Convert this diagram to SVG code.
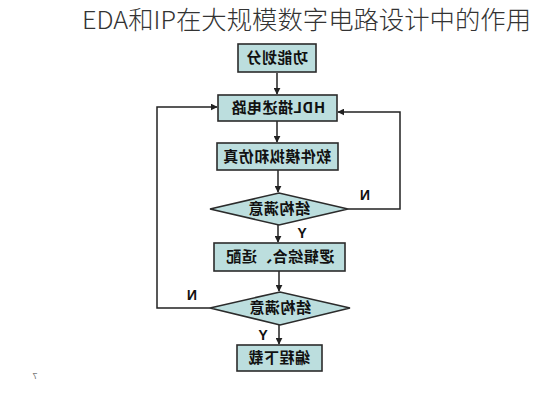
<svg xmlns="http://www.w3.org/2000/svg" width="533" height="400" viewBox="0 0 533 400">
<defs>
<style>
.box{fill:#bcdede;stroke:#2b2b2b;stroke-width:1.6}
.lbl{font-family:"Noto Sans CJK SC","Liberation Sans",sans-serif;font-size:15px;font-weight:bold;fill:#111;text-anchor:middle;letter-spacing:0.5px}
.yn{font-family:"Liberation Sans",sans-serif;font-size:14px;font-weight:bold;fill:#111;text-anchor:middle}
.ln{fill:none;stroke:#222;stroke-width:1.5}
</style>
<marker id="ah" viewBox="0 0 10 10" refX="9" refY="5" markerWidth="7" markerHeight="7" markerUnits="userSpaceOnUse" orient="auto">
<path d="M0,0 L10,5 L0,10 z" fill="#222"/>
</marker>
</defs>
<rect width="533" height="400" fill="#fff"/>
<text x="82" y="29" font-family="'Noto Sans CJK SC','Noto Sans',sans-serif" font-size="25" font-weight="300" fill="#333" textLength="449" lengthAdjust="spacingAndGlyphs">EDA和IP在大规模数字电路设计中的作用</text>

<g id="connectors">
<line class="ln" x1="277" y1="73" x2="277" y2="94" marker-end="url(#ah)"/>
<line class="ln" x1="277" y1="121" x2="277" y2="142" marker-end="url(#ah)"/>
<line class="ln" x1="278" y1="170" x2="278" y2="192" marker-end="url(#ah)"/>
<line class="ln" x1="278" y1="225" x2="278" y2="242" marker-end="url(#ah)"/>
<line class="ln" x1="279" y1="271" x2="279" y2="291" marker-end="url(#ah)"/>
<line class="ln" x1="279" y1="325" x2="279" y2="344" marker-end="url(#ah)"/>
<polyline class="ln" points="210,308 157,308 157,107 217,107" marker-end="url(#ah)"/>
<polyline class="ln" points="348,209 400,209 400,112 338,112" marker-end="url(#ah)"/>
<g transform="scale(-1,1)">
<text class="yn" x="-365" y="200">N</text>
<text class="yn" x="-192" y="300">N</text>
<text class="yn" x="-302" y="238">Y</text>
<text class="yn" x="-263" y="340">Y</text>
</g>
</g>

<g id="n1">
<rect class="box" x="238" y="44" width="78" height="28"/>
<text class="lbl" transform="scale(-1,1)" x="-277" y="63">功能划分</text>
</g>
<g id="n2">
<rect class="box" x="218" y="95" width="119" height="26"/>
<text class="lbl" transform="scale(-1,1)" x="-278" y="113">HDL描述电路</text>
</g>
<g id="n3">
<rect class="box" x="217" y="143" width="121" height="27"/>
<text class="lbl" transform="scale(-1,1)" x="-277" y="162">软件模拟和仿真</text>
</g>
<g id="d1">
<polygon class="box" points="210,209 279,193 348,209 279,225"/>
<text class="lbl" transform="scale(-1,1)" x="-279" y="214">结构满意</text>
</g>
<g id="n4">
<rect class="box" x="214" y="243" width="131" height="28"/>
<text class="lbl" transform="scale(-1,1)" x="-280" y="262">逻辑综合、适配</text>
</g>
<g id="d2">
<polygon class="box" points="210,308 280,292 350,308 280,325"/>
<text class="lbl" transform="scale(-1,1)" x="-280" y="313">结构满意</text>
</g>
<g id="n5">
<rect class="box" x="237" y="345" width="85" height="26"/>
<text class="lbl" transform="scale(-1,1)" x="-279" y="363">编程下载</text>
</g>
<text transform="scale(-1,1)" x="-35" y="379" font-family="'Liberation Sans',sans-serif" font-size="9" fill="#777" text-anchor="middle">7</text>
</svg>
